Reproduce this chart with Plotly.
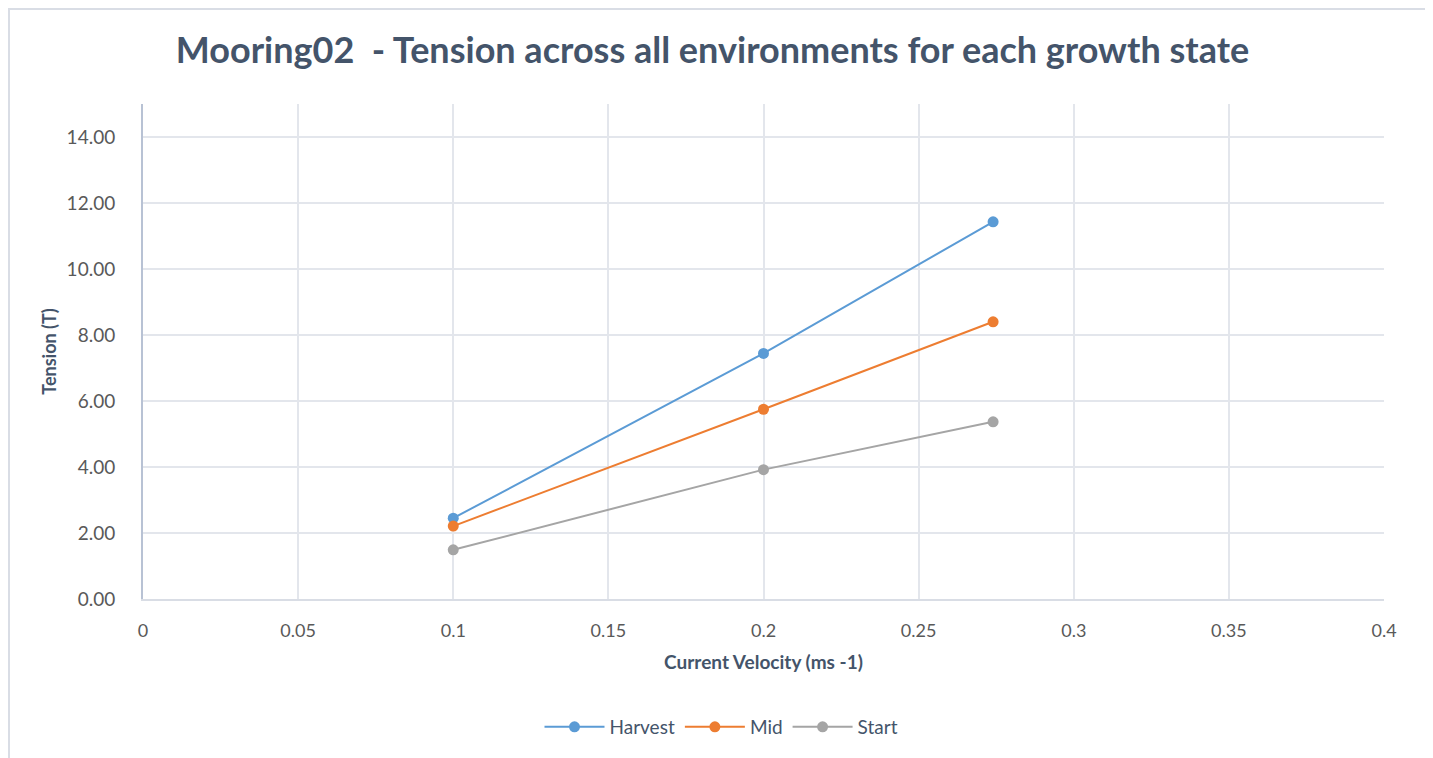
import plotly.graph_objects as go

velocity = [0.1, 0.2, 0.274]
harvest = [2.45, 7.44, 11.43]
mid = [2.21, 5.75, 8.40]
start = [1.49, 3.92, 5.37]
series_names = ["Harvest", "Mid", "Start"]
series_colors = ["#5B9BD5", "#ED7D31", "#A5A5A5"]

FONT = "Lato"
TXT = "#44546A"

# page body has an 8px offset; compensate
OFF = 8
W, H = 1433 - OFF, 758 - OFF
L, R, T, B = 143 - OFF, 1433 - 1384, 104 - OFF, 758 - 599

fig = go.Figure()
for name, vals, col in zip(series_names, [harvest, mid, start], series_colors):
    fig.add_trace(go.Scatter(
        x=velocity, y=vals, name=name, mode="lines+markers",
        line=dict(color=col, width=2),
        marker=dict(color=col, size=11),
    ))

fig.update_layout(
    width=W, height=H,
    margin=dict(l=L, r=R, t=T, b=B),
    paper_bgcolor="white", plot_bgcolor="white",
    font=dict(family=FONT, color=TXT),
    title=dict(text="<b>Mooring02  - Tension across all environments for each growth state</b>",
               x=(712.5 - OFF) / W, xanchor="center", y=1 - (50 - OFF) / H, yanchor="middle",
               font=dict(family=FONT, size=36, color=TXT)),
    showlegend=True,
    legend=dict(orientation="h", x=(721.5 - OFF) / W, xref="container", xanchor="center",
                y=1 - (727 - OFF) / H, yref="container",
                yanchor="middle", font=dict(family=FONT, size=19, color=TXT),
                itemwidth=60, traceorder="normal"),
    xaxis=dict(range=[0, 0.4], dtick=0.05, tick0=0, showgrid=True, gridcolor="#E3E6EC", gridwidth=2,
               zeroline=False, showline=True, linecolor="#D9DDE5", linewidth=2,
               tickfont=dict(family=FONT, size=18, color="#595959"), ticks="", ticklabelstandoff=14,
               title=dict(text="<b>Current Velocity (ms -1)</b>", font=dict(family=FONT, size=19, color=TXT),
                          standoff=16)),
    yaxis=dict(range=[0, 15], tickvals=[0, 2, 4, 6, 8, 10, 12, 14], tickformat=".2f",
               showgrid=True, gridcolor="#E3E6EC", gridwidth=2,
               zeroline=False, showline=True, linecolor="#B8C2D4", linewidth=2,
               tickfont=dict(family=FONT, size=19, color="#595959"), ticks="", ticklabelstandoff=22,
               title=dict(text="<b>Tension (T)</b>", font=dict(family=FONT, size=18, color=TXT),
                          standoff=5)),
)

# outer chart-area border (in screen pixels relative to plot area)
pw, ph = 1384 - 143, 599 - 104
fig.add_shape(type="rect", xref="paper", yref="paper",
              x0=(9 - 143) / pw, x1=(1427 - 143) / pw,
              y0=(599 - 770) / ph, y1=1 + (104 - 9) / ph,
              line=dict(color="#D9DDE5", width=2), fillcolor="rgba(0,0,0,0)", layer="above")

fig.write_html("out.html")
